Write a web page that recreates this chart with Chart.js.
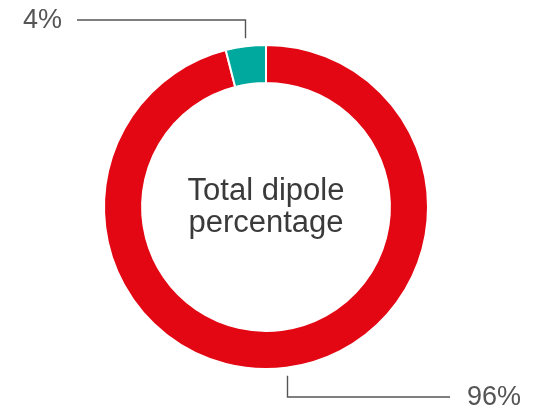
<!DOCTYPE html>
<html>
<head>
<meta charset="utf-8">
<script src="https://cdn.jsdelivr.net/npm/chart.js@4.4.0/dist/chart.umd.min.js"></script>
<style>
  html, body { margin: 0; padding: 0; background: #fff; }
  #wrap { width: 535px; height: 409px; }
</style>
</head>
<body>
<div id="wrap"><canvas id="dipoleChart"></canvas></div>
<script>
const categories = ['Other', 'Dipole'];
const shares = [96, 4];
const sliceColors = ['#e30613', '#00a99d'];
const centerLines = ['Total dipole', 'percentage'];

// label placement per slice: vertical leader ends at labelY, then runs sideways to labelX
const callouts = [
  { labelY: 397, labelX: 450, textX: 467, align: 'left' },
  { labelY: 20, labelX: 77, textX: 62, align: 'right' },
];

const calloutPlugin = {
  id: 'callouts',
  afterDatasetsDraw(chart) {
    const ctx = chart.ctx;
    const arcs = chart.getDatasetMeta(0).data;
    ctx.save();
    arcs.forEach((arc, i) => {
      const c = callouts[i];
      const mid = (arc.startAngle + arc.endAngle) / 2;
      const r = arc.outerRadius + 8;
      const x = Math.round(arc.x + Math.cos(mid) * r) + 0.5;
      const y = arc.y + Math.sin(mid) * r;
      ctx.strokeStyle = '#555';
      ctx.lineWidth = 1.4;
      ctx.beginPath();
      ctx.moveTo(x, y);
      ctx.lineTo(x, c.labelY);
      ctx.lineTo(c.labelX, c.labelY);
      ctx.stroke();

      ctx.fillStyle = '#555555';
      ctx.font = '27px "Liberation Sans", Arial, sans-serif';
      ctx.textAlign = c.align;
      ctx.textBaseline = 'middle';
      ctx.fillText(shares[i] + '%', c.textX, c.labelY + 1);
    });

    // centre caption
    const a = arcs[0];
    ctx.fillStyle = '#3a3a3a';
    ctx.font = '31px "Liberation Sans", Arial, sans-serif';
    ctx.textAlign = 'center';
    ctx.textBaseline = 'alphabetic';
    ctx.fillText(centerLines[0], a.x, a.y - 7);
    ctx.fillText(centerLines[1], a.x, a.y + 25);
    ctx.restore();
  },
};

new Chart(document.getElementById('dipoleChart'), {
  type: 'doughnut',
  data: {
    labels: categories,
    datasets: [
      {
        data: shares,
        backgroundColor: sliceColors,
        borderColor: '#ffffff',
        borderWidth: 2,
      },
    ],
  },
  options: {
    responsive: true,
    maintainAspectRatio: false,
    animation: false,
    cutout: '76.5%',
    layout: {
      padding: { top: 44, bottom: 39, left: 0, right: 3 },
    },
    plugins: {
      legend: { display: false },
      tooltip: { enabled: false },
    },
  },
  plugins: [calloutPlugin],
});
</script>
</body>
</html>
